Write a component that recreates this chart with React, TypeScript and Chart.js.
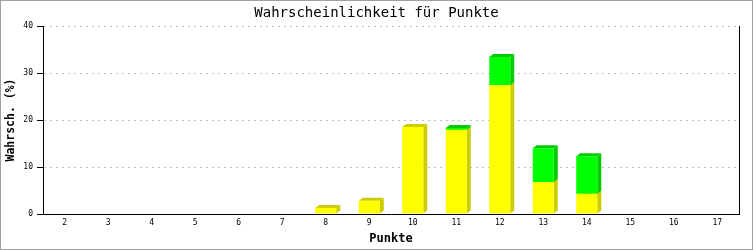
import React, { useEffect, useRef } from "react";
import { Chart, registerables } from "chart.js";

Chart.register(...registerables);

const categories = ["2", "3", "4", "5", "6", "7", "8", "9", "10", "11", "12", "13", "14", "15", "16", "17"];
const yellowValues = [0, 0, 0, 0, 0, 0, 1.3, 2.8, 18.5, 17.9, 27.4, 6.8, 4.3, 0, 0, 0];
const greenValues = [0, 0, 0, 0, 0, 0, 0, 0, 0, 0.4, 6.0, 7.2, 8.0, 0, 0, 0];
const yTicks = [0, 10, 20, 30, 40];

const FRONT = ["#ffff00", "#00ff00"];
const SIDE = ["#cccc00", "#00cc00"];
const DX = 4;
const DY = 3;
const MONO = "'DejaVu Sans Mono', 'Liberation Mono', monospace";

const depthPlugin = {
  id: "depth3d",
  beforeDatasetsDraw(chart: any) {
    const ctx = chart.ctx;
    chart.data.datasets.forEach((ds: any, di: number) => {
      const meta = chart.getDatasetMeta(di);
      meta.data.forEach((bar: any, i: number) => {
        const v = ds.data[i];
        if (!v) return;
        const x0 = bar.x - bar.width / 2;
        const x1 = bar.x + bar.width / 2;
        const y = bar.y;
        const base = bar.base;
        ctx.save();
        ctx.fillStyle = SIDE[di];
        ctx.beginPath();
        ctx.moveTo(x1, y);
        ctx.lineTo(x1 + DX, y - DY);
        ctx.lineTo(x1 + DX, base - DY);
        ctx.lineTo(x1, base);
        ctx.closePath();
        ctx.fill();
        ctx.beginPath();
        ctx.moveTo(x0, y);
        ctx.lineTo(x0 + DX, y - DY);
        ctx.lineTo(x1 + DX, y - DY);
        ctx.lineTo(x1, y);
        ctx.closePath();
        ctx.fill();
        ctx.restore();
      });
    });
  },
};

const framePlugin = {
  id: "frame",
  afterDraw(chart: any) {
    const ctx = chart.ctx;
    ctx.save();
    ctx.strokeStyle = "#a0a0a0";
    ctx.lineWidth = 1;
    ctx.strokeRect(0.5, 0.5, chart.width - 1, chart.height - 1);
    ctx.restore();
  },
};

export default function App() {
  const ref = useRef<HTMLCanvasElement | null>(null);
  useEffect(() => {
    document.body.style.margin = "0";
    const canvas = ref.current;
    if (!canvas) return;
    const chart = new Chart(canvas, {
      type: "bar",
      data: {
        labels: categories,
        datasets: [
          {
            label: "A",
            data: yellowValues,
            backgroundColor: FRONT[0],
            borderWidth: 0,
            barPercentage: 0.483,
            categoryPercentage: 1,
          },
          {
            label: "B",
            data: greenValues,
            backgroundColor: FRONT[1],
            borderWidth: 0,
            barPercentage: 0.483,
            categoryPercentage: 1,
          },
        ],
      },
      options: {
        responsive: false,
        animation: false,
        layout: { padding: 0 },
        plugins: {
          legend: { display: false },
          tooltip: { enabled: false },
          title: {
            display: true,
            text: "Wahrscheinlichkeit für Punkte",
            color: "#000",
            font: { family: MONO, size: 14, weight: "normal" },
            padding: { top: 4.6, bottom: 4.6 },
          },
        },
        scales: {
          x: {
            stacked: true,
            afterFit(scale: any) {
              scale.height = 36;
            },
            grid: { display: false, drawTicks: false },
            border: { display: true, color: "#000", width: 1 },
            ticks: {
              color: "#000",
              font: { family: MONO, size: 8 },
              padding: 4,
              maxRotation: 0,
              autoSkip: false,
            },
            title: {
              display: true,
              text: "Punkte",
              color: "#000",
              font: { family: MONO, size: 12, weight: "bold" },
              padding: { top: 0, bottom: 4 },
            },
          },
          y: {
            stacked: true,
            min: 0,
            max: 40,
            afterFit(scale: any) {
              scale.width = 43;
            },
            afterBuildTicks(scale: any) {
              scale.ticks = yTicks.map((v) => ({ value: v }));
            },
            grid: {
              color: "#c0c0c0",
              lineWidth: 1,
              tickColor: "#000",
              tickLength: 6,
              tickWidth: 1,
              tickBorderDash: [],
            },
            border: { display: true, color: "#000", width: 1, dash: [2, 4] },
            ticks: {
              color: "#000",
              font: { family: MONO, size: 8 },
              padding: 4,
            },
            title: {
              display: true,
              text: "Wahrsch. (%)",
              color: "#000",
              font: { family: MONO, size: 11.5, weight: "bold" },
              padding: { top: 4, bottom: 0 },
            },
          },
          y2: {
            position: "right",
            min: 0,
            max: 40,
            afterFit(scale: any) {
              scale.width = 14;
            },
            grid: { display: false, drawTicks: false },
            ticks: { display: false },
            border: { display: true, color: "#000", width: 1 },
          },
        },
      },
      plugins: [depthPlugin, framePlugin],
    } as any);
    return () => chart.destroy();
  }, []);
  return <canvas ref={ref} width={753} height={250} style={{ display: "block" }} />;
}
